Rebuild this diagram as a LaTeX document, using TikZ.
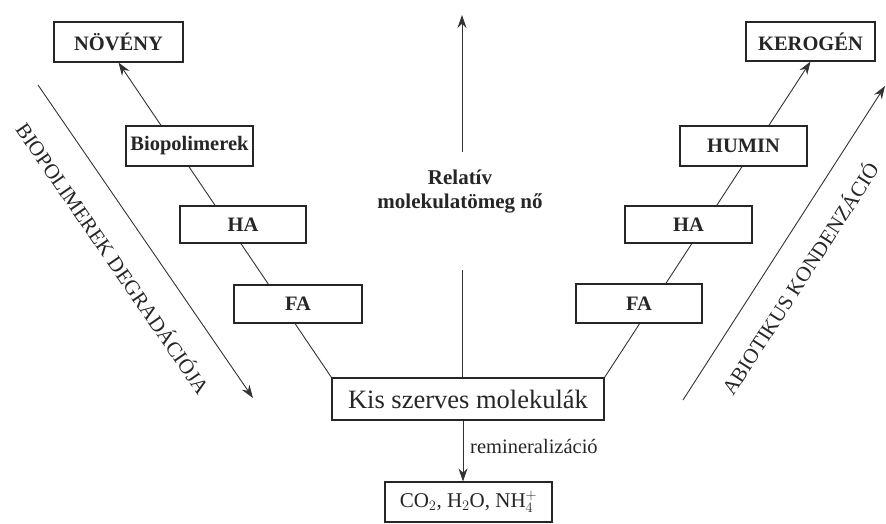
\documentclass[tikz,border=0pt]{standalone}
\usepackage{fontspec}
\setmainfont{Liberation Serif}
\usetikzlibrary{arrows.meta,backgrounds}
\tikzset{
  box/.style={draw=black!85, line width=1.1pt, fill=white, inner sep=0pt, font=\fontsize{20.5}{24}\selectfont\bfseries, text=black!85},
  conn/.style={draw=black!80, line width=0.9pt},
  tip/.style={-{Stealth[length=13pt,width=9pt]}},
  side/.style={font=\fontsize{21}{24}\selectfont, text=black!85, inner sep=0pt}
}
\begin{document}
\begin{tikzpicture}[x=1pt,y=-1pt]
\useasboundingbox (0,0) rectangle (886,523);
% boxes
\node[box, minimum width=129pt, minimum height=40pt] (noveny) at (118.5,42) {NÖVÉNY};
\node[box, minimum width=127pt, minimum height=40pt] (bio) at (189.5,146) {Biopolimerek};
\node[box, minimum width=126pt, minimum height=37pt] (haL) at (243,224.5) {HA};
\node[box, minimum width=128pt, minimum height=38pt] (faL) at (298,304) {FA};
\node[box, minimum width=272pt, minimum height=42pt, font=\fontsize{26.5}{30}\selectfont] (kis) at (468,399) {Kis szerves molekulák};
\node[box, minimum width=167pt, minimum height=40pt, font=\fontsize{21}{24}\selectfont] (co2) at (468.5,502) {CO$_2$, H$_2$O, NH$_4^+$};
\node[box, minimum width=129pt, minimum height=39pt] (kerogen) at (810.5,41.5) {KEROGÉN};
\node[box, minimum width=127pt, minimum height=40pt] (humin) at (743.5,146) {HUMIN};
\node[box, minimum width=127pt, minimum height=37pt] (haR) at (688.5,224.5) {HA};
\node[box, minimum width=126pt, minimum height=39pt] (faR) at (639,303.5) {FA};
% central label
\node[align=center, inner sep=0pt, text=black!85, font=\fontsize{21}{24}\selectfont\bfseries] (rel) at (460,192) {Relatív\\molekulatömeg nő};
\coordinate (upbot) at (462,152);
\coordinate (uptop) at (462,15);
\coordinate (lowtop) at (462,270);
\coordinate (rm) at (463,0);
% side arrows
\coordinate (la1) at (38,85);
\coordinate (la2) at (253,398);
\coordinate (ra1) at (683,400);
\coordinate (ra2) at (885,86);
\node[side, rotate=-55.5] (ltext) at (114,258) {BIOPOLIMEREK DEGRADÁCIÓJA};
\node[side, rotate=57.2] (rtext) at (799,278) {ABIOTIKUS KONDENZÁCIÓ};
\node[anchor=west, inner sep=0pt, text=black!85, font=\fontsize{20.5}{24}\selectfont] (remlab) at (470,446) {remineralizáció};
\begin{pgfonlayer}{background}
\draw[conn, tip] (kis.north west) -- (noveny.south);
\draw[conn, tip] (kis.north east) -- (kerogen.south);
\end{pgfonlayer}
\draw[conn, tip] (upbot) -- (uptop);
\draw[conn] (lowtop) -- (lowtop |- kis.north);
\draw[conn, tip] (rm |- kis.south) -- (rm |- co2.north);
\draw[conn, tip] (la1) -- (la2);
\draw[conn, tip] (ra1) -- (ra2);
\end{tikzpicture}
\end{document}
